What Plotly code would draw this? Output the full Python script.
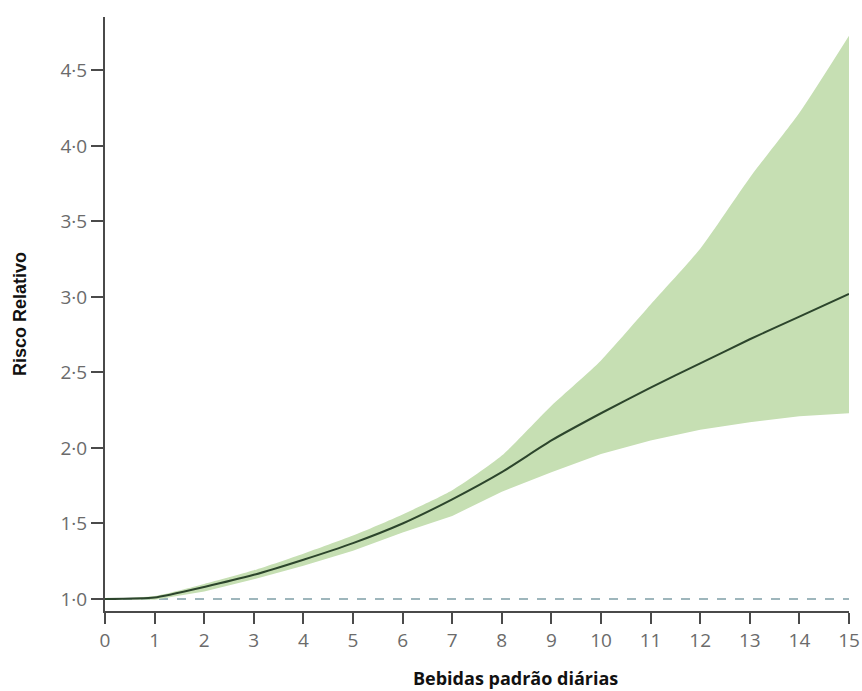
import plotly.graph_objects as go

# Data
drinks = [0, 1, 2, 3, 4, 5, 6, 7, 8, 9, 10, 11, 12, 13, 14, 15]
rr_central = [1.00, 1.01, 1.08, 1.16, 1.26, 1.37, 1.50, 1.66, 1.84, 2.05, 2.23, 2.40, 2.56, 2.72, 2.87, 3.02]
rr_upper = [1.00, 1.02, 1.10, 1.19, 1.30, 1.42, 1.56, 1.72, 1.95, 2.28, 2.58, 2.95, 3.32, 3.79, 4.22, 4.73]
rr_lower = [1.00, 0.995, 1.05, 1.13, 1.22, 1.32, 1.44, 1.55, 1.71, 1.84, 1.96, 2.05, 2.12, 2.17, 2.21, 2.23]

x_ticks = [0, 1, 2, 3, 4, 5, 6, 7, 8, 9, 10, 11, 12, 13, 14, 15]
x_ticktext = [str(v) for v in x_ticks]
y_ticks = [1.0, 1.5, 2.0, 2.5, 3.0, 3.5, 4.0, 4.5]
y_ticktext = ["1·0", "1·5", "2·0", "2·5", "3·0", "3·5", "4·0", "4·5"]
reference_level = 1.0

x_title = "Bebidas padrão diárias"
y_title = "Risco Relativo"

fig = go.Figure()

# Reference dashed line
fig.add_trace(go.Scatter(
    x=[drinks[0], drinks[-1]], y=[reference_level, reference_level],
    mode="lines", line=dict(color="#7f9ea6", width=1.6, dash="dash"),
    hoverinfo="skip", showlegend=False,
))

# Confidence band
fig.add_trace(go.Scatter(
    x=drinks, y=rr_lower, mode="lines", line=dict(width=0, color="rgba(0,0,0,0)"),
    showlegend=False, hoverinfo="skip",
))
fig.add_trace(go.Scatter(
    x=drinks, y=rr_upper, mode="lines", line=dict(width=0, color="rgba(0,0,0,0)", shape="spline", smoothing=0.6),
    fill="tonexty", fillcolor="#c6dfb3", showlegend=False, hoverinfo="skip",
))

# Central estimate
fig.add_trace(go.Scatter(
    x=drinks, y=rr_central, mode="lines",
    line=dict(color="#2c452c", width=2, shape="spline", smoothing=0.5),
    showlegend=False,
))

axis_font = dict(family="Open Sans, sans-serif", size=19, color="#6b6b6b")

fig.update_layout(
    width=862, height=691,
    margin=dict(l=105, r=13, t=17, b=80),
    paper_bgcolor="white", plot_bgcolor="white",
    xaxis=dict(
        range=[0, 15], tickmode="array", tickvals=x_ticks, ticktext=x_ticktext,
        showgrid=False, zeroline=False, showline=True, linecolor="#4a4a4a", linewidth=2,
        ticks="outside", ticklen=11, tickwidth=2, tickcolor="#4a4a4a",
        tickfont=axis_font, automargin=False,
    ),
    yaxis=dict(
        range=[0.9205, 4.854], tickmode="array", tickvals=y_ticks, ticktext=y_ticktext,
        showgrid=False, zeroline=False, showline=True, linecolor="#4a4a4a", linewidth=2,
        ticks="outside", ticklen=12, tickwidth=2, tickcolor="#4a4a4a",
        tickfont=axis_font, automargin=False,
    ),
    annotations=[
        dict(text=f"<b>{x_title}</b>", xref="paper", yref="paper", x=0.5524, y=-0.113,
             showarrow=False, xanchor="center", yanchor="middle",
             font=dict(family="Open Sans, sans-serif", size=18, color="#111111")),
        dict(text=f"<b>{y_title}</b>", xref="paper", yref="paper", x=-0.1142, y=0.50,
             showarrow=False, xanchor="center", yanchor="middle", textangle=-90,
             font=dict(family="Liberation Sans Narrow, Arial Narrow, sans-serif", size=18, color="#111111")),
    ],
)

fig.write_html(
    "out.html",
    config={"displayModeBar": False},
    post_script="document.body.style.margin='0';document.body.style.overflow='hidden';",
)
